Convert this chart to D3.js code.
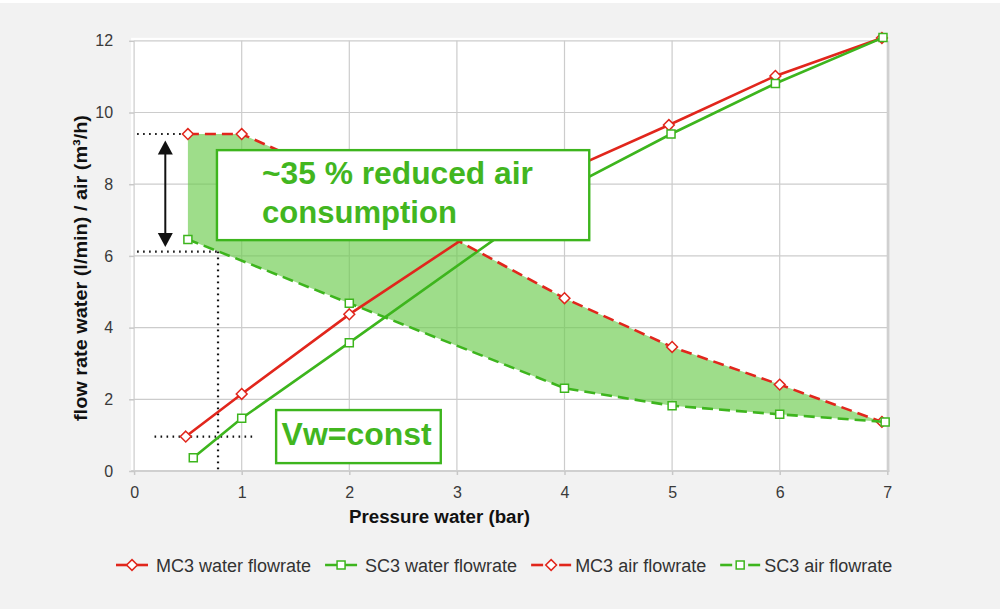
<!DOCTYPE html>
<html>
<head>
<meta charset="utf-8">
<script src="https://cdn.jsdelivr.net/npm/d3@7/dist/d3.min.js"></script>
<style>
  html, body { margin: 0; padding: 0; background: #ffffff; }
  svg { display: block; font-family: "Liberation Sans", Arial, Helvetica, sans-serif; }
</style>
</head>
<body>
<svg id="chart" width="1005" height="613"></svg>
<script>
// ---- data ---------------------------------------------------------------
const xTickVals = [0, 1, 2, 3, 4, 5, 6, 7];
const yTickVals = [0, 2, 4, 6, 8, 10, 12];

// water pressure (bar) and flow (l/min for water, m³/h for air)
const mc3WaterP = [0.48, 1, 2, 4, 4.97, 5.96, 6.95];
const mc3WaterQ = [0.96, 2.15, 4.37, 8.35, 9.65, 11.02, 12.08];
const sc3WaterP = [0.55, 1, 2, 4, 4.99, 5.96, 6.96];
const sc3WaterQ = [0.37, 1.47, 3.58, 7.85, 9.40, 10.81, 12.09];
const mc3AirP   = [0.5, 1, 2, 4, 5, 6, 6.95];
const mc3AirQ   = [9.40, 9.40, 8.06, 4.82, 3.46, 2.41, 1.37];
const sc3AirP   = [0.5, 2, 4, 5, 6, 6.98];
const sc3AirQ   = [6.46, 4.68, 2.31, 1.82, 1.58, 1.37];

const seriesNames = ["MC3 water flowrate", "SC3 water flowrate", "MC3 air flowrate", "SC3 air flowrate"];

// reference levels for the annotation
const airLevelMC3 = 9.40;
const airLevelSC3 = 6.12;
const waterLevel  = 0.96;
const operatingP  = 0.78;

const xTitle = "Pressure water (bar)";
const yTitle = "flow rate water (l/min) / air (m³/h)";
const noteReduction = ["~35 % reduced air", "consumption"];
const noteConst = "Vw=const";

// ---- styles -------------------------------------------------------------
const RED = "#e1261c";
const GREEN = "#3db51d";
const TEXT_GREEN = "#42b61f";
const GRID = "#cccccc";

const svg = d3.select("#chart");

const x = d3.scaleLinear().domain([0, 7]).range([134.1, 887.3]);
const y = d3.scaleLinear().domain([0, 12]).range([471, 40.8]);

// page background and white plot panel
svg.append("rect").attr("x", 0).attr("y", 3).attr("width", 1000).attr("height", 606).attr("fill", "#f2f2f2");
svg.append("rect").attr("x", x(0) - 3).attr("y", y(12) - 3)
  .attr("width", x(7) - x(0) + 4).attr("height", y(0) - y(12) + 3).attr("fill", "#ffffff");

// grid
const grid = svg.append("g");
grid.selectAll("line.h").data(yTickVals.filter(v => v > 0)).join("line")
  .attr("x1", x(0)).attr("x2", x(7)).attr("y1", d => y(d)).attr("y2", d => y(d))
  .attr("stroke", GRID).attr("stroke-width", 1.2);
grid.selectAll("line.v").data(xTickVals).join("line")
  .attr("x1", d => x(d)).attr("x2", d => x(d)).attr("y1", y(12)).attr("y2", y(0))
  .attr("stroke", GRID).attr("stroke-width", 1.2);
// right border and base line
svg.append("line").attr("x1", x(7) + 1).attr("x2", x(7) + 1).attr("y1", y(12)).attr("y2", y(0) + 1)
  .attr("stroke", "#d0d0d0").attr("stroke-width", 2.2);
svg.append("line").attr("x1", x(0) - 3).attr("x2", x(7) + 2).attr("y1", y(0)).attr("y2", y(0))
  .attr("stroke", "#d0d0d0").attr("stroke-width", 2.2);

// axes
const yAxis = svg.append("g").attr("transform", `translate(${x(0)},0)`)
  .call(d3.axisLeft(y).tickValues(yTickVals).tickSize(5).tickPadding(16).tickFormat(d3.format("d")));
const xAxis = svg.append("g").attr("transform", `translate(0,${y(0)})`)
  .call(d3.axisBottom(x).tickValues(xTickVals).tickSize(4).tickPadding(12).tickFormat(d3.format("d")));
[xAxis, yAxis].forEach(a => {
  a.select(".domain").remove();
  a.selectAll(".tick line").attr("stroke", "#c8c8c8").attr("stroke-width", 1.5);
  a.selectAll(".tick text").attr("fill", "#3a3a3a").attr("font-size", 16)
    .attr("font-family", "'Liberation Sans', Arial, sans-serif");
});

// axis titles
svg.append("text").attr("x", 439.5).attr("y", 523).attr("text-anchor", "middle")
  .attr("font-size", 18).attr("font-weight", "bold").attr("fill", "#111")
  .attr("textLength", 181).attr("lengthAdjust", "spacingAndGlyphs").text(xTitle);
svg.append("text").attr("transform", `translate(87,${268}) rotate(-90)`).attr("text-anchor", "middle")
  .attr("font-size", 18.5).attr("font-weight", "bold").attr("fill", "#111")
  .attr("textLength", 306).attr("lengthAdjust", "spacingAndGlyphs").text(yTitle);

// ---- shaded saving area between the two air curves ----------------------
const zip = (p, q) => p.map((v, i) => [v, q[i]]);
const mc3Air = zip(mc3AirP, mc3AirQ);
const sc3Air = zip(sc3AirP, sc3AirQ);
const polyPts = mc3Air.concat(sc3Air.slice().reverse());
svg.append("path")
  .attr("d", d3.line().x(d => x(d[0])).y(d => y(d[1]))(polyPts) + "Z")
  .attr("fill", "rgb(108,204,78)").attr("fill-opacity", 0.66);

// ---- dotted guide lines -------------------------------------------------
const dotted = svg.append("g").attr("stroke", "#111").attr("stroke-width", 2.2)
  .attr("stroke-dasharray", "1.6,4.4").attr("fill", "none");
dotted.append("line").attr("x1", x(0) + 3).attr("x2", x(mc3AirP[0]) - 5)
  .attr("y1", y(airLevelMC3)).attr("y2", y(airLevelMC3));
dotted.append("line").attr("x1", x(0) + 3).attr("x2", x(operatingP))
  .attr("y1", y(airLevelSC3)).attr("y2", y(airLevelSC3));
dotted.append("line").attr("x1", x(operatingP)).attr("x2", x(operatingP))
  .attr("y1", y(airLevelSC3)).attr("y2", y(0));
dotted.append("line").attr("x1", x(0.19)).attr("x2", x(1.13))
  .attr("y1", y(waterLevel)).attr("y2", y(waterLevel));

// ---- series -------------------------------------------------------------
const series = [
  { name: seriesNames[0], pts: zip(mc3WaterP, mc3WaterQ), color: RED,   dash: null,   marker: "diamond" },
  { name: seriesNames[1], pts: zip(sc3WaterP, sc3WaterQ), color: GREEN, dash: null,   marker: "square" },
  { name: seriesNames[2], pts: mc3Air,                    color: RED,   dash: "11,6", marker: "diamond" },
  { name: seriesNames[3], pts: sc3Air,                    color: GREEN, dash: "11,6", marker: "square" }
];

const markerPath = {
  diamond: "M0,-5.4L5.4,0L0,5.4L-5.4,0Z",
  square: "M-4,-4H4V4H-4Z"
};

const lineGen = d3.line().x(d => x(d[0])).y(d => y(d[1]));
series.forEach(s => {
  svg.append("path").attr("d", lineGen(s.pts)).attr("fill", "none")
    .attr("stroke", s.color).attr("stroke-width", 2.6)
    .attr("stroke-dasharray", s.dash);
  svg.append("g").selectAll("path").data(s.pts).join("path")
    .attr("transform", d => `translate(${x(d[0])},${y(d[1])})`)
    .attr("d", markerPath[s.marker])
    .attr("fill", "#fff").attr("stroke", s.color).attr("stroke-width", 1.5);
});

// ---- double arrow showing the air reduction -----------------------------
const arrowX = x(0.29);
const arrowTop = y(9.22), arrowBot = y(6.25);
const headL = 14, headW = 7.5;
svg.append("line").attr("x1", arrowX).attr("x2", arrowX)
  .attr("y1", arrowTop + headL - 1).attr("y2", arrowBot - headL + 1)
  .attr("stroke", "#111").attr("stroke-width", 2);
svg.append("path")
  .attr("d", `M${arrowX},${arrowTop}L${arrowX + headW},${arrowTop + headL}L${arrowX - headW},${arrowTop + headL}Z`)
  .attr("fill", "#111");
svg.append("path")
  .attr("d", `M${arrowX},${arrowBot}L${arrowX + headW},${arrowBot - headL}L${arrowX - headW},${arrowBot - headL}Z`)
  .attr("fill", "#111");

// ---- note boxes ---------------------------------------------------------
function noteBox(x0, x1, yTop, yBot) {
  const bx = x(x0), by = y(yTop), bw = x(x1) - x(x0), bh = y(yBot) - y(yTop);
  svg.append("rect").attr("x", bx).attr("y", by).attr("width", bw).attr("height", bh)
    .attr("fill", "#fff").attr("stroke", GREEN).attr("stroke-width", 2.4);
  return { bx, by, bw, bh };
}
const b1 = noteBox(0.77, 4.23, 8.95, 6.44);
[[noteReduction[0], 33.5, 271], [noteReduction[1], 73, 195]].forEach(([t, dy, len]) => {
  svg.append("text").attr("x", b1.bx + 45).attr("y", b1.by + dy)
    .attr("font-size", 31).attr("font-weight", "bold").attr("fill", TEXT_GREEN)
    .attr("textLength", len).attr("lengthAdjust", "spacingAndGlyphs").text(t);
});
const b2 = noteBox(1.32, 2.85, 1.70, 0.22);
svg.append("text").attr("x", b2.bx + 5.5).attr("y", b2.by + 35)
  .attr("font-size", 31).attr("font-weight", "bold").attr("fill", TEXT_GREEN)
  .attr("textLength", 150).attr("lengthAdjust", "spacingAndGlyphs").text(noteConst);

// ---- legend -------------------------------------------------------------
const legend = svg.append("g").attr("transform", "translate(116,565)");
let cursor = 0;
series.forEach((s, i) => {
  const g = legend.append("g").attr("transform", `translate(${cursor},0)`);
  const symW = s.dash ? 40 : 32;
  if (s.dash) {
    g.append("line").attr("x1", 0).attr("x2", 12).attr("stroke", s.color).attr("stroke-width", 2.6);
    g.append("line").attr("x1", symW - 12).attr("x2", symW).attr("stroke", s.color).attr("stroke-width", 2.6);
  } else {
    g.append("line").attr("x1", 0).attr("x2", symW).attr("stroke", s.color).attr("stroke-width", 2.6);
  }
  g.append("path").attr("transform", `translate(${symW / 2},0)`).attr("d", markerPath[s.marker])
    .attr("fill", "#fff").attr("stroke", s.color).attr("stroke-width", 1.5);
  const gap = s.dash ? 4 : 8;
  const t = g.append("text").attr("x", symW + gap).attr("y", 6.5)
    .attr("font-size", 18).attr("fill", "#333").text(s.name);
  cursor += symW + gap + t.node().getComputedTextLength() + 14;
});
</script>
</body>
</html>
